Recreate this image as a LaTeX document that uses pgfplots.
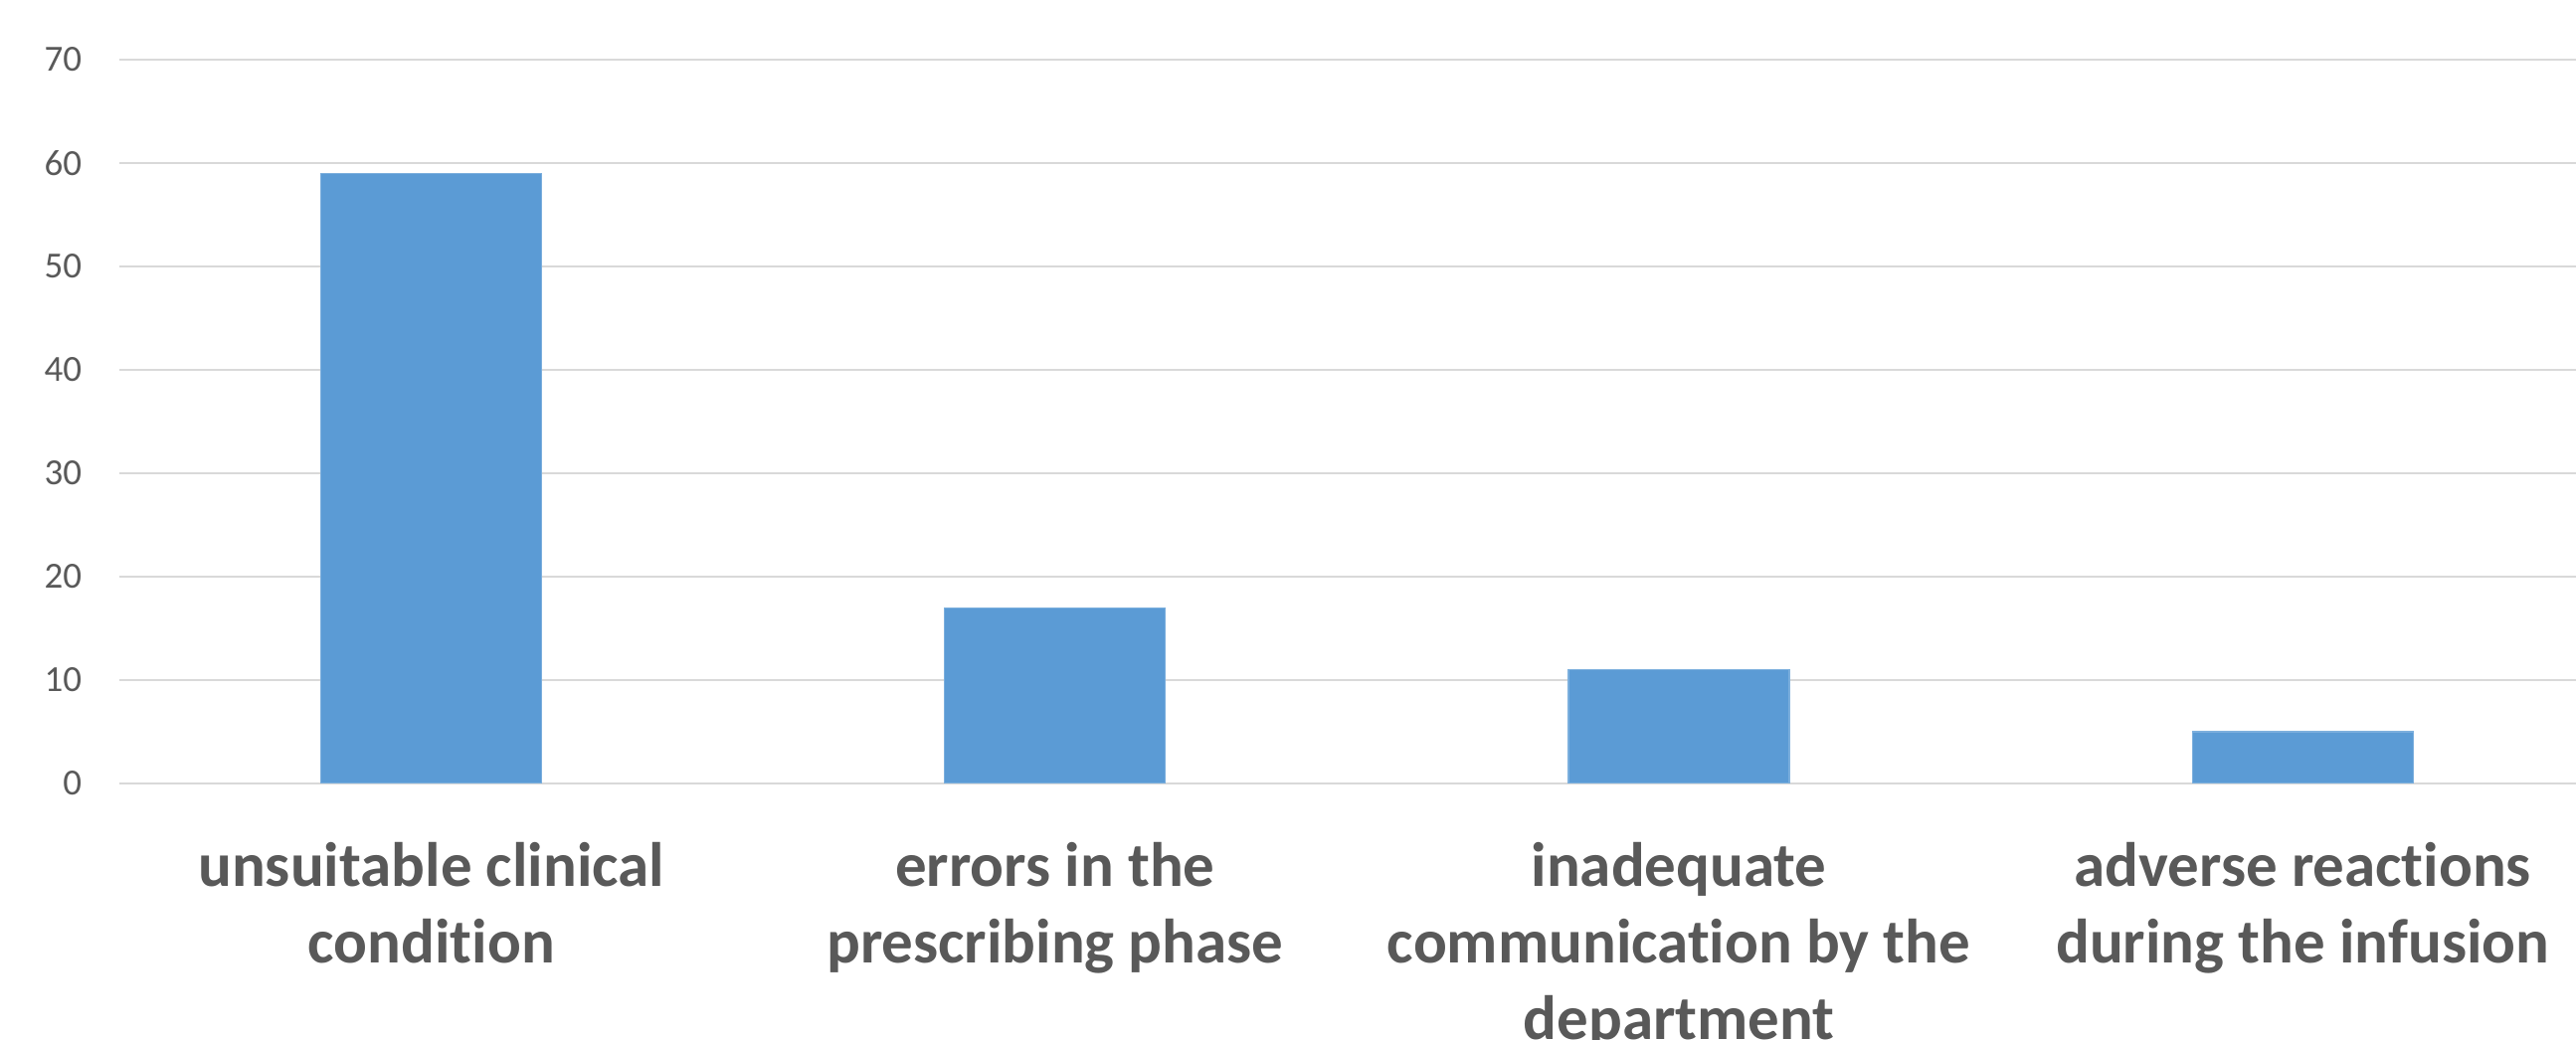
\documentclass[border=0pt]{standalone}
\usepackage{fontspec}
\setmainfont{Carlito}[Ligatures={NoCommon}]
\usepackage{pgfplots}
\pgfplotsset{compat=1.18}
\definecolor{barblue}{HTML}{5B9BD5}
\definecolor{gridgrey}{HTML}{D9D9D9}
\definecolor{txtgrey}{HTML}{595959}
\begin{document}
\begin{tikzpicture}
\path[use as bounding box] (-30pt,-64.5pt) rectangle (617.5pt,197pt);
\begin{axis}[
  at={(0,0)}, anchor=south west,
  scale only axis,
  width=617.5pt, height=182pt,
  xmin=-0.5, xmax=3.438,
  ymin=0, ymax=70,
  ytick={0,10,...,70},
  xtick={0,1,2,3},
  xticklabels={{unsuitable clinical\\condition},{errors in the\\prescribing phase},{inadequate\\communication by the\\department},{adverse reactions\\during the infusion}},
  ymajorgrids,
  grid style={gridgrey, line width=0.5pt},
  axis line style={draw=none},
  major tick length=0pt,
  /pgf/number format/assume math mode=true,
  yticklabel style={font=\fontsize{9.25}{11}\selectfont, text=txtgrey, anchor=east, inner sep=0pt, xshift=-9.25pt},
  xticklabel style={font=\fontsize{15.75}{19.25}\selectfont\bfseries, text=txtgrey, align=center, anchor=north, inner sep=0pt, yshift=-14.5pt},
  ybar, bar width=55.5pt, bar shift=0pt,
  clip=true,
]
\addplot[fill=barblue, draw=barblue!80!white, line width=0.3pt] coordinates {(0,59) (1,17) (2,11) (3,5)};
\end{axis}
\end{tikzpicture}
\end{document}
